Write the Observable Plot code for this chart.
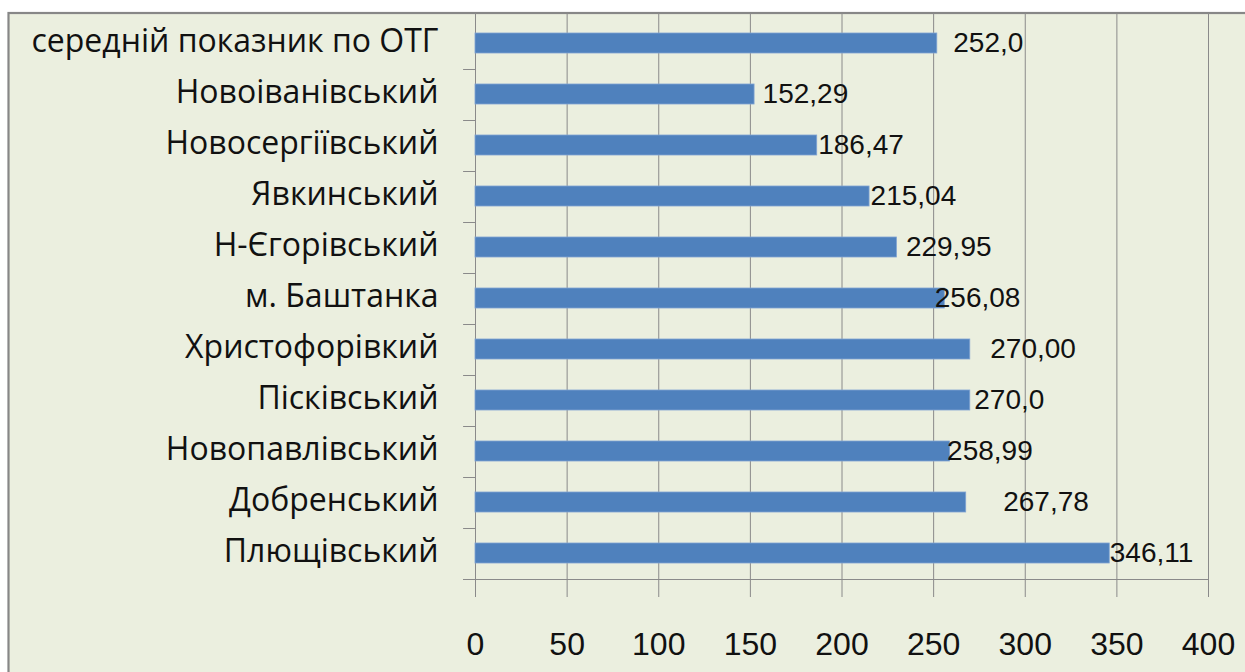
<!DOCTYPE html>
<html><head><meta charset="utf-8">
<script src="https://cdn.jsdelivr.net/npm/d3@7"></script>
<script src="https://cdn.jsdelivr.net/npm/@observablehq/plot@0.6"></script>
<style>body{margin:0;background:#fff} svg{display:block}</style>
</head><body><div id="chart"></div>
<script>
const categories = ["середній показник по ОТГ","Новоіванівський","Новосергіївський","Явкинський","Н-Єгорівський","м. Баштанка","Христофорівкий","Пісківський","Новопавлівський","Добренський","Плющівський"];
const values = [252.0, 152.29, 186.47, 215.04, 229.95, 256.08, 270.00, 270.0, 258.99, 267.78, 346.11];
const valueLabels = ["252,0","152,29","186,47","215,04","229,95","256,08","270,00","270,0","258,99","267,78","346,11"];
const xTicks = [0, 50, 100, 150, 200, 250, 300, 350, 400];
// manual label nudges (px) as placed in the original
const labelShiftPx = [16, 8, 1, 1, 9, -10, 20, 4, -3, 37, 0];

const rows = categories.map((c, i) => ({category: c, value: values[i], label: valueLabels[i], shift: labelShiftPx[i]}));
const gridColor = "#8a8a8a";

const plot = Plot.plot({
  width: 1245, height: 672,
  marginLeft: 475, marginRight: 37, marginTop: 13, marginBottom: 88,
  style: {background: "#fff", fontFamily: "Liberation Sans, Arial, sans-serif", color: "#111"},
  x: {domain: [0, 400]},
  y: {domain: categories, paddingInner: 0.6, paddingOuter: 0.3},
  marks: [
    Plot.gridX(xTicks, {stroke: gridColor, strokeOpacity: 1}),
    Plot.barX(rows, {x: "value", y: "category", fill: "#4f81bd", stroke: "#7fa3d2", strokeWidth: 0.8}),
    Plot.ruleY(rows, {y: "category", x1: -6.5, x2: 0, dy: 26, stroke: gridColor}),
    Plot.ruleY([categories[categories.length - 1]], {y: d => d, x1: -6.5, x2: 400, dy: 26, stroke: gridColor}),
    Plot.axisX(xTicks, {tickSize: 13, tickPadding: 35, fontSize: 32, stroke: gridColor, fill: "#111", label: null}),
    Plot.axisY({tickSize: 0, tickPadding: 37, fontSize: 32, dy: -2, fontFamily: "Open Sans", fill: "#111", label: null}),
    ...rows.map(r => Plot.text([r], {x: "value", y: "category", text: "label", textAnchor: "start", dx: r.shift, fontSize: 28, fill: "#111"}))
  ]
});

const svg = d3.select(plot);
svg.insert("rect", ":first-child")
  .attr("x", 8.5).attr("y", 13).attr("width", 1300).attr("height", 700)
  .attr("fill", "#ebefdf").attr("stroke", "#878787").attr("stroke-width", 2.2);

document.getElementById("chart").appendChild(plot);
</script>
</body></html>
